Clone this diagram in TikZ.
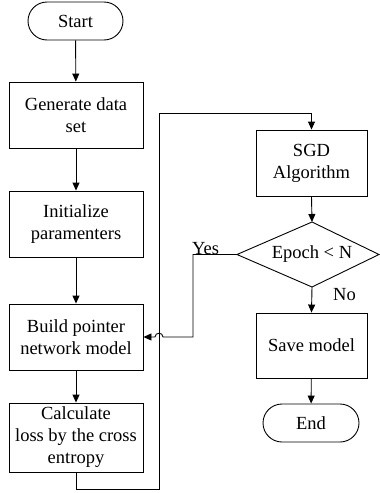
\documentclass[tikz,border=0pt]{standalone}
\usepackage{fontspec}
\setmainfont{Liberation Serif}
\usetikzlibrary{arrows.meta,shapes.geometric}
\begin{document}
\begin{tikzpicture}[x=1pt,y=-1pt,
  every node/.style={font=\fontsize{18.5}{22}\selectfont, inner sep=0pt, align=center},
  box/.style={draw, line width=0.9pt, rectangle},
  term/.style={draw, line width=0.9pt, rectangle, rounded corners=19pt},
  dec/.style={draw, line width=0.9pt, diamond, aspect=2.2},
  conn/.style={line width=0.9pt, -{Triangle[length=8pt,width=7pt]}},
  plain/.style={line width=0.9pt}]
\useasboundingbox (0,0) rectangle (380,493);
\node[term, minimum width=95pt, minimum height=38pt] (start) at (75.5,21) {Start};
\node[box, minimum width=134pt, minimum height=66pt] (gen) at (76,115) {Generate data\\set};
\node[box, minimum width=134pt, minimum height=66pt] (init) at (76,224) {Initialize\\paramenters};
\node[box, minimum width=134pt, minimum height=66pt] (build) at (76,337) {Build pointer\\network model};
\node[box, minimum width=134pt, minimum height=69pt] (calc) at (76,437.5) {Calculate\\loss by the cross\\entropy};
\node[box, minimum width=111pt, minimum height=66pt] (sgd) at (311.5,163) {SGD\\Algorithm};
\node[box, minimum width=111pt, minimum height=65pt] (save) at (311.5,345.5) {Save model};
\node[term, minimum width=96pt, minimum height=38pt] (end) at (311,423) {End};
% diamond drawn explicitly
\coordinate (dn) at (312,222);
\coordinate (ds) at (312,287);
\coordinate (dw) at (237,254.5);
\coordinate (de) at (379,254.5);
\draw[plain] (dn) -- (de) -- (ds) -- (dw) -- cycle;
\node (epoch) at (312,254.5) {Epoch < N};
\coordinate (l1) at (76,489);
\coordinate (l2) at (159,489);
\coordinate (l3) at (159,113);
\coordinate (l4) at (311.5,113);
\coordinate (y1) at (193,254.5);
\coordinate (y2) at (193,337);
\coordinate (h1) at (163,337);
\coordinate (h2) at (155,337);
\draw[conn] (start) -- (gen);
\draw[conn] (gen) -- (init);
\draw[conn] (init) -- (build);
\draw[conn] (build) -- (calc);
\draw[conn] (calc.south) -- (l1) -- (l2) -- (l3) -- (l4) -- (sgd.north);
\draw[conn] (sgd.south) -- (dn);
\draw[conn] (ds) -- (save.north);
\draw[conn] (save) -- (end);
\draw[conn] (dw) -- (y1) -- (y2) -- (h1) .. controls (163,332) and (155,332) .. (h2) -- (build.east);
\node[anchor=base west] (yes) at (192,254) {Yes};
\node[anchor=base west] (no) at (333,300) {No};
\end{tikzpicture}
\end{document}
